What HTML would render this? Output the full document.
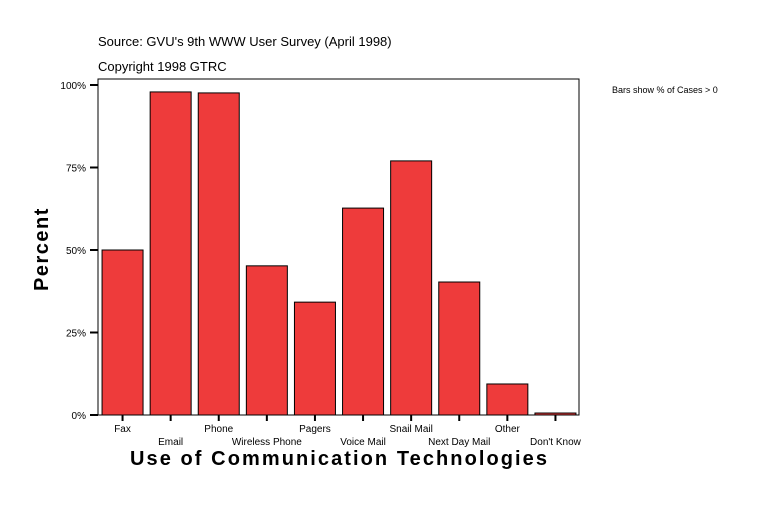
<!DOCTYPE html>
<html><head><meta charset="utf-8"><style>
body{margin:0;background:#fff;width:767px;height:506px;overflow:hidden;font-family:"Liberation Sans",sans-serif}
</style></head><body>
<svg id="c" width="767" height="506" xmlns="http://www.w3.org/2000/svg" font-family="Liberation Sans, sans-serif">
<text x="98" y="46" font-size="13">Source: GVU's 9th WWW User Survey (April 1998)</text>
<text x="98" y="71" font-size="13">Copyright 1998 GTRC</text>
<text x="612" y="93" font-size="9">Bars show % of Cases &gt; 0</text>
<rect x="98" y="79" width="481" height="336" fill="none" stroke="#000" stroke-width="1"/>
<text x="0" y="0" font-size="20" font-weight="bold" transform="translate(48,249) rotate(-90)" text-anchor="middle" letter-spacing="1.5">Percent</text>
<text x="130" y="465" font-size="20" font-weight="bold" textLength="417" lengthAdjust="spacing">Use of Communication Technologies</text>
<g id="bars"></g><g id="axes"></g>
</svg>
<script>
const categories=["Fax","Email","Phone","Wireless Phone","Pagers","Voice Mail","Snail Mail","Next Day Mail","Other","Don't Know"];
const values=[50,97.9,97.6,45.2,34.2,62.7,77,40.3,9.4,0.6];
const ticks=[0,25,50,75,100];
const tickLabels=["0%","25%","50%","75%","100%"];
const NS="http://www.w3.org/2000/svg";
const y0=415,y100=85,left=98.5,band=48.1;
function y(v){return y0-(y0-y100)*v/100;}
function xc(i){return left+band*(i+0.5);}
const bars=document.getElementById('bars'),axes=document.getElementById('axes');
function mk(t,a,p){const e=document.createElementNS(NS,t);for(const k in a)e.setAttribute(k,a[k]);p.appendChild(e);return e;}
values.forEach((v,i)=>{
 const r=mk('rect',{x:xc(i)-20.5,y:y(v),width:41,height:y0-y(v),fill:'#EE3B3B',stroke:'#000','stroke-width':1},bars);
 
 
 const t=mk('line',{x1:xc(i),x2:xc(i),y1:y0,y2:y0+6,stroke:'#000','stroke-width':2},axes);
 
 
 const l=mk('text',{x:xc(i),y:i%2?445:432,'font-size':10,'text-anchor':'middle'},axes);
 l.textContent=categories[i];
 
 
});
ticks.forEach((v,i)=>{
 const t=mk('line',{x1:90,x2:98,y1:y(v),y2:y(v),stroke:'#000','stroke-width':2},axes);
 
 
 const l=mk('text',{x:86,y:y(v)+4,'font-size':10,'text-anchor':'end'},axes);
 l.textContent=tickLabels[i];
 
 
});
</script>
</body></html>
